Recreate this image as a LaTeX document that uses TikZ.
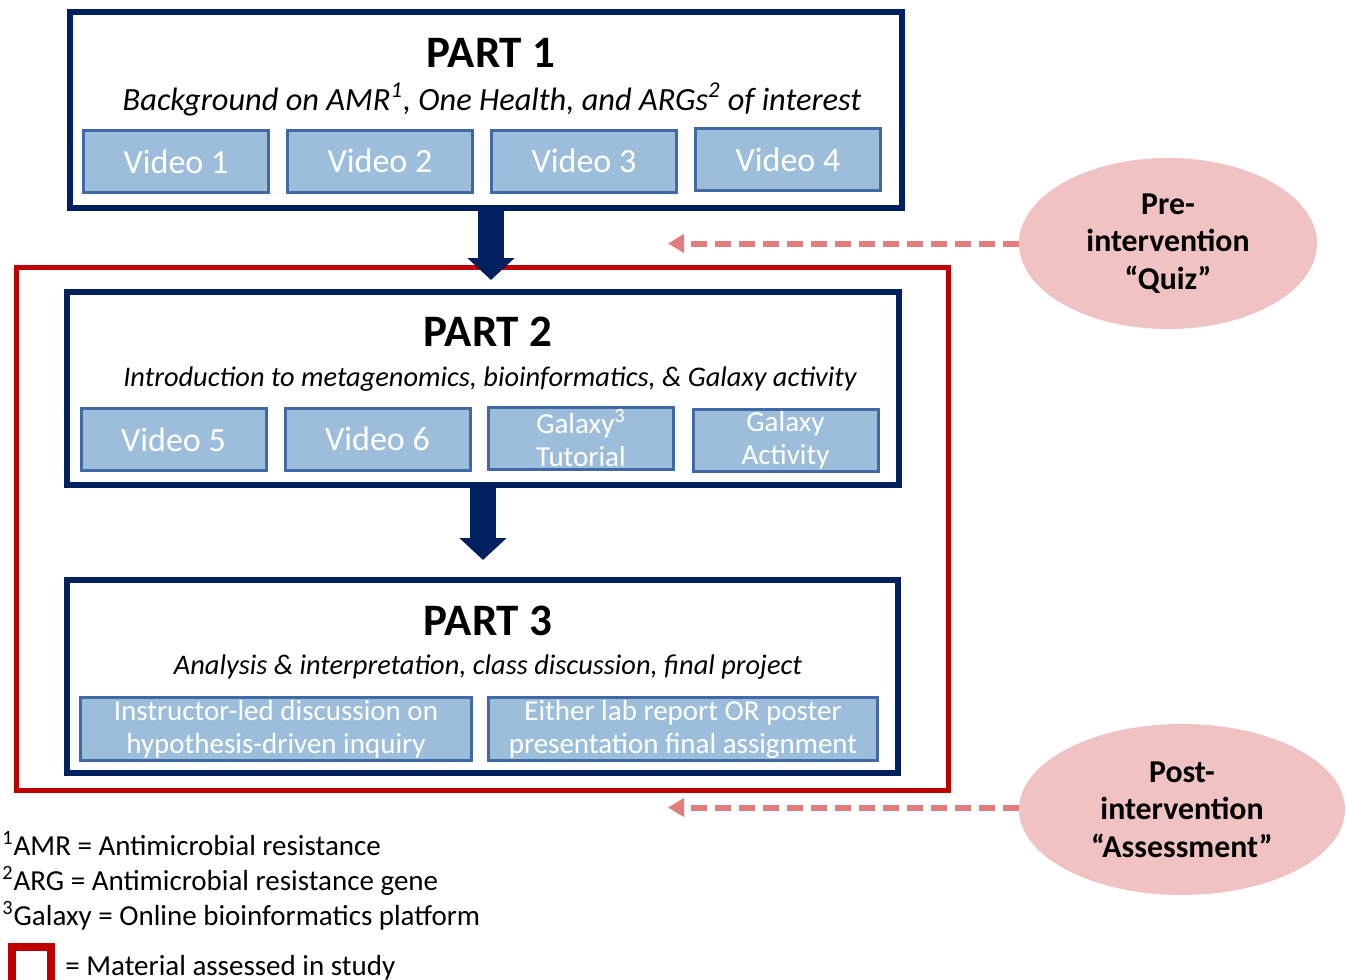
\documentclass[tikz,border=0pt]{standalone}
\usepackage{fontspec}
\setmainfont{Carlito}
\usetikzlibrary{shapes.geometric,arrows.meta}
\definecolor{navy}{RGB}{0,32,96}
\definecolor{studyred}{RGB}{192,0,0}
\definecolor{boxfill}{RGB}{157,190,219}
\definecolor{boxline}{RGB}{65,105,165}
\definecolor{quizpink}{RGB}{240,194,194}
\definecolor{dashred}{RGB}{225,125,125}
\begin{document}
\begin{tikzpicture}[x=0.5pt, y=-0.5pt,
    partbox/.style={draw=navy, line width=3pt, inner sep=0pt, outer sep=0pt},
    parttitle/.style={anchor=base, font=\fontsize{22.5}{27}\selectfont\bfseries},
    partsub/.style={anchor=base, font=\fontsize{14.2}{17}\selectfont\itshape},
    vidbox/.style={draw=boxline, line width=1.5pt, fill=boxfill, text=white, inner sep=0pt,
        minimum width=92.5pt, minimum height=31pt, align=center, font=\fontsize{17}{20}\selectfont},
    smallbox/.style={vidbox, font=\fontsize{14.5}{16.5}\selectfont},
    bigarrow/.style={navy, line width=13pt, -{Triangle[width=23pt,length=11pt]}},
    quiz/.style={ellipse, fill=quizpink, inner sep=0pt, minimum height=85.5pt, align=center,
        font=\fontsize{15.9}{18.75}\selectfont\bfseries},
    quizarrow/.style={dashred, line width=3pt, dash pattern=on 8pt off 4pt, -{Triangle[width=9pt,length=8pt]}},
    note/.style={anchor=base west, inner sep=0pt, font=\fontsize{14.5}{17}\selectfont}]
    \useasboundingbox (0,0) rectangle (1346,980);

    % assessed material
    \node[draw=studyred, line width=2.5pt, inner sep=0pt, minimum width=466pt, minimum height=261.5pt] (study) at (482.5,529){};

    % part 1
    \node[partbox, minimum width=416pt, minimum height=98pt] (p1) at (486,110){};
    \node[parttitle] (p1title) at (491,67){PART 1};
    \node[partsub, font=\fontsize{16.2}{19}\selectfont\itshape] (p1sub) at (492,110){Background on AMR\textsuperscript{1}, One Health, and ARGs\textsuperscript{2} of interest};
    \node[vidbox] (v1) at (176,161.5){Video 1};
    \node[vidbox] (v2) at (380,161){Video 2};
    \node[vidbox] (v3) at (584,161){Video 3};
    \node[vidbox] (v4) at (788,159.5){Video 4};

    % part 2
    \node[partbox, minimum width=416pt, minimum height=96.5pt] (p2) at (483,388.5){};
    \node[parttitle] (p2title) at (488,346){PART 2};
    \node[partsub] (p2sub) at (490,386){Introduction to metagenomics, bioinformatics, \& Galaxy activity};
    \node[vidbox] (v5) at (173.5,439.5){Video 5};
    \node[vidbox] (v6) at (377.5,439){Video 6};
    \node[smallbox] (tut) at (581,438){Galaxy\textsuperscript{3}\\Tutorial};
    \node[smallbox] (act) at (785.5,440){Galaxy\\Activity};

    % part 3
    \node[partbox, minimum width=415.5pt, minimum height=96.5pt] (p3) at (482.5,676.5){};
    \node[parttitle] (p3title) at (488,635){PART 3};
    \node[partsub] (p3sub) at (488,674){Analysis \& interpretation, class discussion, final project};
    \node[smallbox, minimum width=195.5pt, minimum height=31.5pt] (disc) at (276,729){Instructor-led discussion on\\hypothesis-driven inquiry};
    \node[smallbox, minimum width=194.5pt, minimum height=31.5pt] (final) at (683,729){Either lab report OR poster\\presentation final assignment};

    \draw[bigarrow, shorten >=6pt] ([xshift=2.5pt]p1.south) -- ([xshift=2.5pt]p1.south |- p2.north);
    \draw[bigarrow, shorten >=10pt] (p2.south) -- (p2.south |- p3.north);

    % quiz and assessment
    \node[quiz, minimum width=149pt] (pre) at (1168,243.5){Pre-\\intervention\\“Quiz”};
    \node[quiz, minimum width=163pt] (post) at (1182,809.5){Post-\\intervention\\“Assessment”};
    \coordinate (preend) at (668,243.5);
    \coordinate (postend) at (668,807.5);
    \draw[quizarrow] (pre.west) -- (preend);
    \draw[quizarrow] (post.west |- postend) -- (postend);

    % footnotes
    \node[note] (n1) at (2,855){\textsuperscript{1}AMR = Antimicrobial resistance};
    \node[note] (n2) at (2,890){\textsuperscript{2}ARG = Antimicrobial resistance gene};
    \node[note] (n3) at (2,925){\textsuperscript{3}Galaxy = Online bioinformatics platform};
    \node[draw=studyred, line width=4pt, inner sep=0pt, minimum width=19.5pt, minimum height=19.5pt] (legbox) at (31.5,966.5){};
    \node[note] (leg) at (65,975){= Material assessed in study};
\end{tikzpicture}
\end{document}
